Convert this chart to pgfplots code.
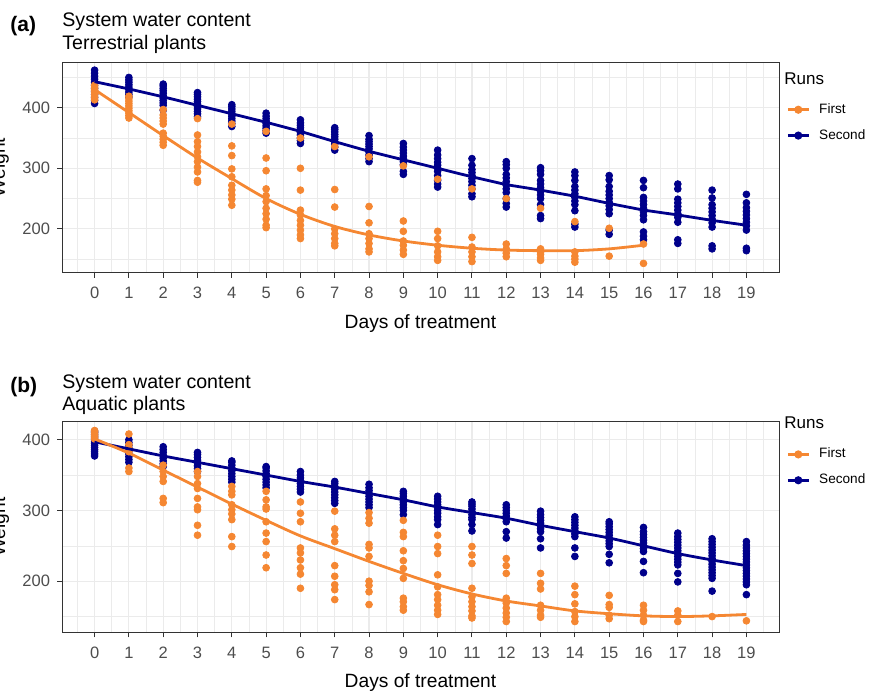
\documentclass[border=0pt]{standalone}
\usepackage{pgfplots}
\pgfplotsset{compat=1.18}
\usepackage{pgfplotstable}
\usepackage{fontspec}
\setmainfont{Liberation Sans}

\definecolor{runone}{RGB}{245,135,50}
\definecolor{runtwo}{RGB}{0,0,139}
\definecolor{gridgray}{RGB}{235,235,235}
\definecolor{framegray}{RGB}{51,51,51}
\definecolor{ticktext}{RGB}{77,77,77}

% (a) terrestrial plants -- weights per day
\pgfplotstableread[row sep=\\]{
d w\\
0 407\\0 412\\0 417\\0 422\\0 427\\0 432\\0 437\\0 442\\0 447\\0 452\\0 457\\0 462\\
1 418\\1 422\\1 426\\1 430\\1 434\\1 438\\1 442\\1 446\\1 450\\
2 396\\2 404\\2 408\\2 412\\2 416\\2 420\\2 424\\2 428\\2 432\\2 436\\2 439\\
3 385\\3 390\\3 394\\3 398\\3 402\\3 406\\3 410\\3 414\\3 418\\3 422\\3 425\\
4 369\\4 374\\4 378\\4 382\\4 386\\4 390\\4 394\\4 398\\4 402\\4 405\\
5 358\\5 362\\5 366\\5 370\\5 374\\5 378\\5 382\\5 386\\5 391\\
6 341\\6 346\\6 350\\6 355\\6 359\\6 363\\6 367\\6 371\\6 375\\6 380\\
7 330\\7 335\\7 340\\7 344\\7 348\\7 352\\7 356\\7 360\\7 364\\7 367\\
8 311\\8 316\\8 322\\8 327\\8 332\\8 336\\8 340\\8 344\\8 348\\8 354\\
9 290\\9 295\\9 306\\9 311\\9 316\\9 320\\9 325\\9 330\\9 335\\9 341\\
10 269\\10 274\\10 280\\10 288\\10 295\\10 300\\10 305\\10 310\\10 316\\10 322\\10 330\\
11 253\\11 258\\11 266\\11 272\\11 278\\11 283\\11 288\\11 293\\11 298\\11 305\\11 316\\
12 236\\12 242\\12 250\\12 260\\12 266\\12 272\\12 278\\12 284\\12 290\\12 300\\12 306\\12 311\\
13 217\\13 222\\13 240\\13 250\\13 256\\13 262\\13 268\\13 274\\13 280\\13 290\\13 296\\13 301\\
14 203\\14 208\\14 230\\14 240\\14 246\\14 252\\14 258\\14 264\\14 270\\14 280\\14 288\\14 294\\
15 191\\15 198\\15 225\\15 232\\15 238\\15 244\\15 250\\15 256\\15 262\\15 270\\15 281\\15 288\\
16 182\\16 188\\16 195\\16 215\\16 222\\16 228\\16 234\\16 240\\16 246\\16 252\\16 268\\16 280\\
17 176\\17 182\\17 211\\17 219\\17 225\\17 231\\17 237\\17 243\\17 249\\17 266\\17 274\\
18 167\\18 172\\18 203\\18 210\\18 216\\18 222\\18 228\\18 234\\18 240\\18 251\\18 264\\
19 164\\19 168\\19 198\\19 205\\19 211\\19 217\\19 223\\19 229\\19 235\\19 243\\19 257\\
}\asecond

\pgfplotstableread[row sep=\\]{
d w\\
0 413\\0 416\\0 419\\0 422\\0 425\\0 428\\0 431\\0 434\\0 437\\
1 383\\1 387\\1 391\\1 395\\1 399\\1 403\\1 407\\1 411\\1 415\\1 419\\
2 397\\2 388\\2 383\\2 378\\2 373\\2 358\\2 353\\2 348\\2 343\\2 338\\
3 382\\3 355\\3 344\\3 336\\3 327\\3 319\\3 311\\3 302\\3 294\\3 280\\3 277\\
4 373\\4 337\\4 321\\4 299\\4 286\\4 272\\4 264\\4 256\\4 249\\4 239\\
5 361\\5 317\\5 296\\5 266\\5 255\\5 245\\5 234\\5 225\\5 216\\5 206\\5 202\\
6 350\\6 300\\6 264\\6 231\\6 223\\6 214\\6 206\\6 198\\6 190\\6 184\\
7 336\\7 265\\7 236\\7 200\\7 192\\7 184\\7 176\\7 172\\
8 319\\8 237\\8 210\\8 192\\8 184\\8 176\\8 167\\8 162\\
9 304\\9 213\\9 196\\9 180\\9 173\\9 165\\9 158\\
10 282\\10 196\\10 184\\10 172\\10 162\\10 154\\10 148\\
11 266\\11 186\\11 170\\11 162\\11 154\\11 146\\
12 250\\12 175\\12 167\\12 160\\12 154\\
13 234\\13 167\\13 162\\13 158\\13 152\\13 148\\
14 212\\14 162\\14 155\\14 150\\14 145\\
15 201\\15 155\\
16 175\\16 143\\
}\afirst

\pgfplotstableread[row sep=\\]{
d w\\
0 443\\1 431\\2 418\\3 404\\4 390\\5 376\\6 361\\7 344\\8 328\\9 314\\
10 300\\11 286\\12 273\\13 264\\14 254\\15 242\\16 231\\17 223\\18 214\\19 206\\
}\asecondfit

\pgfplotstableread[row sep=\\]{
d w\\
0 430\\1 392\\2 354\\3 317\\4 283\\5 250\\6 224\\7 204\\8 190\\9 180\\
10 173\\11 168\\12 165\\13 164\\14 164\\15 167\\16 173\\
}\afirstfit

% (b) aquatic plants -- weights per day
\pgfplotstableread[row sep=\\]{
d w\\
0 377\\0 380\\0 383\\0 386\\0 389\\0 392\\0 395\\0 398\\0 401\\0 404\\0 407\\0 410\\0 412\\
1 368\\1 372\\1 376\\1 380\\1 384\\1 388\\1 392\\1 396\\1 400\\
2 362\\2 366\\2 370\\2 374\\2 378\\2 382\\2 386\\2 390\\
3 355\\3 359\\3 363\\3 367\\3 371\\3 375\\3 379\\3 382\\
4 340\\4 344\\4 348\\4 352\\4 356\\4 360\\4 364\\4 368\\4 370\\
5 332\\5 336\\5 340\\5 344\\5 348\\5 352\\5 356\\5 360\\5 362\\
6 326\\6 330\\6 334\\6 338\\6 342\\6 346\\6 350\\6 355\\
7 310\\7 314\\7 318\\7 322\\7 326\\7 330\\7 334\\7 338\\7 341\\
8 304\\8 308\\8 312\\8 316\\8 320\\8 324\\8 328\\8 332\\8 337\\
9 294\\9 300\\9 304\\9 308\\9 312\\9 316\\9 320\\9 324\\9 327\\
10 280\\10 287\\10 291\\10 296\\10 300\\10 304\\10 308\\10 312\\10 316\\10 320\\
11 271\\11 280\\11 287\\11 290\\11 294\\11 298\\11 302\\11 306\\11 309\\11 312\\
12 261\\12 270\\12 284\\12 288\\12 292\\12 296\\12 300\\12 304\\12 308\\
13 247\\13 260\\13 270\\13 274\\13 278\\13 282\\13 286\\13 290\\13 294\\13 299\\
14 235\\14 247\\14 263\\14 267\\14 271\\14 275\\14 279\\14 283\\14 287\\14 291\\
15 226\\15 238\\15 249\\15 253\\15 257\\15 261\\15 265\\15 269\\15 273\\15 277\\15 281\\15 284\\
16 212\\16 228\\16 242\\16 246\\16 250\\16 254\\16 258\\16 262\\16 266\\16 270\\16 276\\
17 199\\17 211\\17 223\\17 227\\17 231\\17 235\\17 239\\17 243\\17 247\\17 251\\17 255\\17 259\\17 263\\17 268\\
18 186\\18 204\\18 208\\18 212\\18 216\\18 220\\18 224\\18 228\\18 232\\18 236\\18 240\\18 244\\18 248\\18 252\\18 256\\18 260\\
19 181\\19 195\\19 199\\19 203\\19 207\\19 211\\19 215\\19 219\\19 223\\19 227\\19 231\\19 235\\19 239\\19 243\\19 247\\19 251\\19 256\\
}\bsecond

\pgfplotstableread[row sep=\\]{
d w\\
0 401\\0 403\\0 405\\0 407\\0 409\\0 411\\0 413\\
1 408\\1 393\\1 388\\1 383\\1 360\\1 355\\
2 364\\2 355\\2 348\\2 341\\2 317\\2 311\\
3 355\\3 348\\3 338\\3 331\\3 317\\3 305\\3 301\\3 279\\3 265\\
4 334\\4 327\\4 322\\4 308\\4 301\\4 295\\4 287\\4 263\\4 249\\
5 327\\5 315\\5 305\\5 302\\5 284\\5 268\\5 256\\5 237\\5 219\\
6 312\\6 296\\6 284\\6 247\\6 240\\6 230\\6 219\\6 210\\6 190\\
7 299\\7 274\\7 265\\7 256\\7 222\\7 207\\7 195\\7 188\\7 174\\
8 297\\8 289\\8 282\\8 252\\8 247\\8 235\\8 200\\8 194\\8 185\\8 167\\
9 286\\9 269\\9 263\\9 243\\9 229\\9 218\\9 204\\9 176\\9 171\\9 164\\9 159\\
10 265\\10 249\\10 239\\10 209\\10 192\\10 181\\10 174\\10 166\\10 159\\10 153\\
11 249\\11 237\\11 225\\11 190\\11 178\\11 171\\11 164\\11 158\\11 151\\11 148\\
12 232\\12 222\\12 211\\12 176\\12 169\\12 162\\12 155\\12 149\\12 143\\
13 211\\13 197\\13 189\\13 166\\13 159\\13 152\\13 149\\
14 193\\14 181\\14 168\\14 157\\14 150\\14 143\\
15 180\\15 167\\15 163\\15 152\\15 147\\
16 166\\16 159\\16 152\\16 145\\16 143\\
17 158\\17 152\\17 143\\
18 150\\
19 144\\
}\bfirst

\pgfplotstableread[row sep=\\]{
d w\\
0 397\\1 387\\2 377\\3 368\\4 359\\5 350\\6 341\\7 333\\8 324\\9 315\\
10 305\\11 297\\12 289\\13 279\\14 270\\15 261\\16 250\\17 239\\18 230\\19 222\\
}\bsecondfit

\pgfplotstableread[row sep=\\]{
d w\\
0 401\\1 381\\2 357\\3 333\\4 309\\5 286\\6 264\\7 246\\8 228\\9 211\\
10 195\\11 182\\12 172\\13 165\\14 158\\15 154\\16 151\\17 150\\18 151\\19 153\\
}\bfirstfit

\pgfplotsset{
  panel/.style={
    scale only axis, width=358.5pt, height=105.25pt,
    xmin=-0.95, xmax=19.95,
    xtick={0,...,19}, minor xtick={-0.5,0.5,...,19.5},
    ytick={200,300,400},
    grid=both,
    major grid style={gridgray, line width=0.55pt},
    minor grid style={gridgray, line width=0.3pt},
    axis line style={framegray, line width=0.5pt},
    major tick style={framegray, line width=0.5pt},
    major tick length=2.5pt, minor tick length=0pt,
    tick align=outside, tick pos=left,
    clip mode=individual,
    ticklabel style={font=\fontsize{8.25}{9.5}\selectfont, text=ticktext},
    xticklabel style={yshift=-1.3pt},
    /pgf/number format/assume math mode=true,
    xlabel={Days of treatment},
    xlabel style={font=\fontsize{9.6}{11}\selectfont, at={(axis description cs:0.5,-0.24)}, anchor=center},
    ylabel={Weight},
    ylabel style={font=\fontsize{9.6}{11}\selectfont, at={(axis description cs:-0.0795,0.5)}, anchor=base},
    legend style={draw=none, fill=none, at={(axis description cs:1,1)}, anchor=north west,
      xshift=3.5pt, inner sep=0pt, row sep=2.5pt,
      font=\fontsize{6.8}{8}\selectfont,
      /tikz/every odd column/.append style={column sep=2.5pt}},
    legend cell align=left,
    legend image code/.code={\draw[mark repeat=2,mark phase=2] plot coordinates {(0pt,0pt) (5.25pt,0pt) (10.5pt,0pt)};},
  },
  pts/.style={only marks, mark=*, mark size=1.7pt, color=#1, forget plot},
  fit/.style={#1, line width=1.4pt, no marks, forget plot},
}

\begin{document}
\begin{tikzpicture}
\path[use as bounding box] (0,0) rectangle (440pt,-347pt);

% panel (a)
\node[anchor=base west, inner sep=0pt, font=\bfseries\fontsize{10.5}{12}\selectfont] at (5pt,-15.75pt) {(a)};
\node[anchor=base west, inner sep=0pt, font=\fontsize{9.8}{11.8}\selectfont] at (31pt,-13.5pt) {System water content};
\node[anchor=base west, inner sep=0pt, font=\fontsize{9.8}{11.8}\selectfont] at (31pt,-24.75pt) {Terrestrial plants};
\begin{axis}[panel, at={(31pt,-31.15pt)}, anchor=north west,
  ymin=127.5, ymax=475, minor ytick={150,250,350,450},
  legend style={yshift=-18.3pt}]
  \addlegendimage{runone, line width=1.4pt, mark=*, mark size=1.3pt}
  \addlegendentry{First}
  \addlegendimage{runtwo, line width=1.4pt, mark=*, mark size=1.3pt}
  \addlegendentry{Second}
  \addplot[pts=runtwo] table[x=d, y=w] {\asecond};
  \addplot[pts=runone] table[x=d, y=w] {\afirst};
  \addplot[fit=runtwo] table[x=d, y=w] {\asecondfit};
  \addplot[fit=runone, smooth] table[x=d, y=w] {\afirstfit};
  \node[anchor=base west, inner sep=0pt, xshift=2.5pt, yshift=-11pt, font=\fontsize{8.5}{10}\selectfont] at (axis description cs:1,1) {Runs};
\end{axis}

% panel (b)
\node[anchor=base west, inner sep=0pt, font=\bfseries\fontsize{10.5}{12}\selectfont] at (5pt,-196.5pt) {(b)};
\node[anchor=base west, inner sep=0pt, font=\fontsize{9.8}{11.8}\selectfont] at (31pt,-194.5pt) {System water content};
\node[anchor=base west, inner sep=0pt, font=\fontsize{9.8}{11.8}\selectfont] at (31pt,-205.25pt) {Aquatic plants};
\begin{axis}[panel, at={(31pt,-211pt)}, anchor=north west,
  ymin=127.5, ymax=425, minor ytick={150,250,350},
  legend style={yshift=-10.8pt}]
  \addlegendimage{runone, line width=1.4pt, mark=*, mark size=1.3pt}
  \addlegendentry{First}
  \addlegendimage{runtwo, line width=1.4pt, mark=*, mark size=1.3pt}
  \addlegendentry{Second}
  \addplot[pts=runtwo] table[x=d, y=w] {\bsecond};
  \addplot[pts=runone] table[x=d, y=w] {\bfirst};
  \addplot[fit=runtwo, smooth] table[x=d, y=w] {\bsecondfit};
  \addplot[fit=runone, smooth] table[x=d, y=w] {\bfirstfit};
  \node[anchor=base west, inner sep=0pt, xshift=2.5pt, yshift=-3.5pt, font=\fontsize{8.5}{10}\selectfont] at (axis description cs:1,1) {Runs};
\end{axis}
\end{tikzpicture}
\end{document}
